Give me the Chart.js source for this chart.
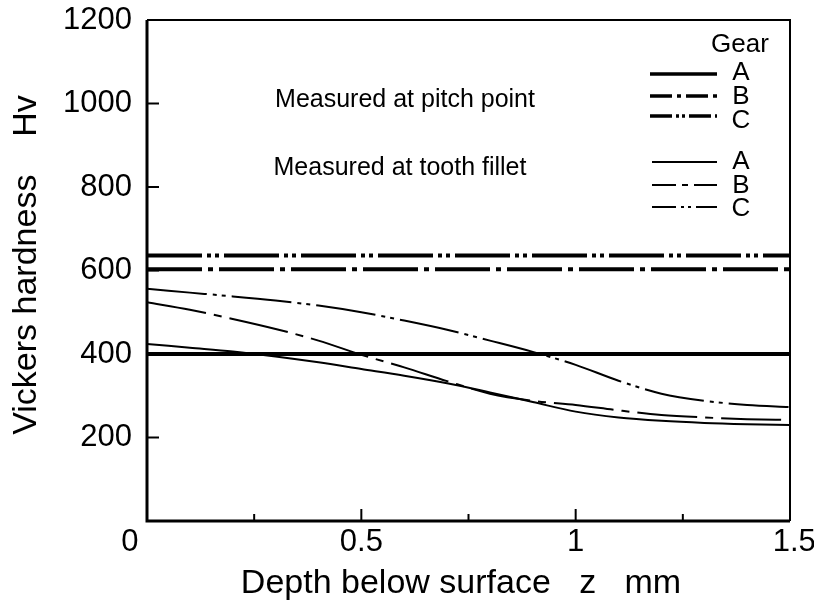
<!DOCTYPE html>
<html>
<head>
<meta charset="utf-8">
<script src="https://cdn.jsdelivr.net/npm/chart.js@4/dist/chart.umd.min.js"></script>
<style>
  html, body { margin: 0; padding: 0; background: #fff; }
  #wrap { width: 814px; height: 605px; }
</style>
</head>
<body>
<div id="wrap"><canvas id="hardnessChart" width="814" height="605"></canvas></div>
<script>
/* ── Data ── */
const DEPTH = [0, 0.1, 0.2, 0.3, 0.4, 0.5, 0.6, 0.7, 0.8, 0.9, 1.0, 1.1, 1.2, 1.3, 1.4, 1.5];
const FILLET_A = [424, 415, 406, 394, 380, 364, 348, 330, 308, 285, 262, 248, 240, 235, 232, 230];
const FILLET_B = [524, 506, 484, 460, 432, 398, 368, 335, 305, 288, 278, 265, 254, 248, 244, 242];
const FILLET_C = [556, 547, 538, 528, 516, 500, 480, 458, 432, 405, 374, 336, 305, 288, 278, 273];

const PITCH_DEPTH = [0, 1.5];
const PITCH_A = [400, 400];
const PITCH_B = [603, 603];
const PITCH_C = [636, 636];

const GEARS = ['A', 'B', 'C'];
const Y_TICKS = [0, 200, 400, 600, 800, 1000, 1200];
const X_TICKS = [0, 0.5, 1, 1.5];

const FONT = '"Liberation Sans", Arial, sans-serif';

/* Line styles: pitch lines heavy, fillet lines light */
const PITCH_DASH = [[], [55, 6, 5, 6], [55, 5, 4, 4, 4, 5]];
const FILLET_DASH = [[], [60, 8, 8, 8], [60, 6, 4, 5, 4, 6]];
const PITCH_LEGEND_DASH = [[], [22, 5, 4, 5], [22, 4, 3, 3, 3, 4]];
const FILLET_LEGEND_DASH = [[], [24, 6, 6, 6], [24, 5, 3, 4, 3, 5]];

function toPoints(xs, ys) {
  return xs.map((x, i) => ({ x: x, y: ys[i] }));
}

function lineSet(label, xs, ys, width, dash) {
  return {
    label: label,
    data: toPoints(xs, ys),
    borderColor: '#000',
    borderWidth: width,
    borderDash: dash,
    pointRadius: 0,
    cubicInterpolationMode: 'monotone',
    fill: false
  };
}

/* Frame, inward ticks, axis titles and in-plot legend */
const decorations = {
  id: 'decorations',
  afterDraw(chart) {
    const ctx = chart.ctx;
    const a = chart.chartArea;
    const xs = chart.scales.x;
    const ys = chart.scales.y;
    ctx.save();
    ctx.strokeStyle = '#000';
    ctx.lineCap = 'butt';

    /* frame */
    ctx.lineWidth = 2;
    ctx.beginPath();
    ctx.moveTo(a.left, a.top); ctx.lineTo(a.right, a.top); ctx.lineTo(a.right, a.bottom);
    ctx.stroke();
    ctx.lineWidth = 3;
    ctx.beginPath();
    ctx.moveTo(a.left, a.top); ctx.lineTo(a.left, a.bottom); ctx.lineTo(a.right, a.bottom);
    ctx.stroke();

    /* inward ticks */
    ctx.lineWidth = 2;
    [200, 400, 600, 800, 1000].forEach(v => {
      const py = ys.getPixelForValue(v);
      ctx.beginPath(); ctx.moveTo(a.left, py); ctx.lineTo(a.left + 12, py); ctx.stroke();
    });
    [0.25, 0.5, 0.75, 1, 1.25].forEach(v => {
      const px = xs.getPixelForValue(v);
      const len = (v === 0.5 || v === 1) ? 12 : 7;
      ctx.beginPath(); ctx.moveTo(px, a.bottom); ctx.lineTo(px, a.bottom - len); ctx.stroke();
    });

    /* axis titles */
    ctx.fillStyle = '#000';
    ctx.font = '34px ' + FONT;
    ctx.textAlign = 'center';
    ctx.textBaseline = 'middle';
    ctx.fillText('Depth below surface   z   mm', 461, 584);
    ctx.save();
    ctx.translate(27, 265);
    ctx.rotate(-Math.PI / 2);
    ctx.fillText('Vickers hardness    Hv', 0, 0);
    ctx.restore();

    /* legend */
    ctx.font = '25px ' + FONT;
    ctx.textAlign = 'center';
    ctx.fillText('Measured at pitch point', 405, 100);
    ctx.fillText('Measured at tooth fillet', 400, 168);
    ctx.font = '26px ' + FONT;
    ctx.fillText('Gear', 740, 45);

    const pitchLines = [74, 96, 116];
    const filletLines = [162, 185, 207];
    const pitchLabels = [73, 97, 121];
    const filletLabels = [162, 186, 209];
    GEARS.forEach((g, i) => {
      ctx.lineWidth = 3.5;
      ctx.setLineDash(PITCH_LEGEND_DASH[i]);
      ctx.beginPath(); ctx.moveTo(650, pitchLines[i]); ctx.lineTo(717, pitchLines[i]); ctx.stroke();
      ctx.lineWidth = 2;
      ctx.setLineDash(FILLET_LEGEND_DASH[i]);
      ctx.beginPath(); ctx.moveTo(652, filletLines[i]); ctx.lineTo(717, filletLines[i]); ctx.stroke();
      ctx.setLineDash([]);
      ctx.fillText(g, 741, pitchLabels[i]);
      ctx.fillText(g, 741, filletLabels[i]);
    });
    ctx.restore();
  }
};

const datasets = [
  lineSet('Pitch point A', PITCH_DEPTH, PITCH_A, 4, PITCH_DASH[0]),
  lineSet('Pitch point B', PITCH_DEPTH, PITCH_B, 4, PITCH_DASH[1]),
  lineSet('Pitch point C', PITCH_DEPTH, PITCH_C, 4, PITCH_DASH[2]),
  lineSet('Tooth fillet A', DEPTH, FILLET_A, 2, FILLET_DASH[0]),
  lineSet('Tooth fillet B', DEPTH, FILLET_B, 2, FILLET_DASH[1]),
  lineSet('Tooth fillet C', DEPTH, FILLET_C, 2, FILLET_DASH[2])
];

new Chart(document.getElementById('hardnessChart'), {
  type: 'line',
  data: { datasets: datasets },
  options: {
    responsive: false,
    animation: false,
    devicePixelRatio: 1,
    layout: { padding: { left: 0, right: 24, top: 20, bottom: 0 } },
    plugins: {
      legend: { display: false },
      tooltip: { enabled: false }
    },
    scales: {
      x: {
        type: 'linear',
        min: 0,
        max: 1.5,
        afterBuildTicks: s => { s.ticks = X_TICKS.map(v => ({ value: v })); },
        afterFit: s => { s.height = 84; s.paddingLeft = 0; s.paddingRight = 0; },
        grid: { display: false, drawTicks: false },
        border: { display: false },
        ticks: {
          color: '#000',
          padding: 3,
          maxRotation: 0,
          autoSkip: false,
          font: { size: 31, family: FONT },
          /* the end labels sit slightly outside the axis ends in the original */
          callback: v => (v === 0 ? '0    ' : v === 1.5 ? ' 1.5' : String(v))
        }
      },
      y: {
        min: 0,
        max: 1200,
        afterBuildTicks: s => { s.ticks = Y_TICKS.map(v => ({ value: v })); },
        afterFit: s => { s.width = 147; s.paddingTop = 0; s.paddingBottom = 0; },
        grid: { display: false, drawTicks: false },
        border: { display: false },
        ticks: {
          color: '#000',
          padding: 15,
          autoSkip: false,
          font: { size: 31, family: FONT },
          callback: v => (v === 0 ? '' : String(v))
        }
      }
    }
  },
  plugins: [decorations]
});
</script>
</body>
</html>
